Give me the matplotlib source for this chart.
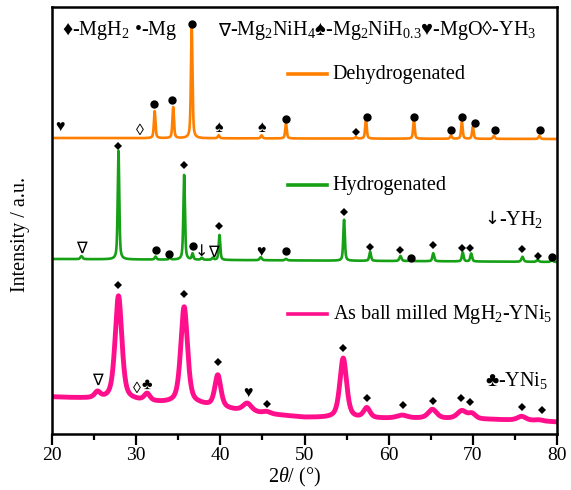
import numpy as np
import matplotlib
matplotlib.use('Agg')
import matplotlib.pyplot as plt
from matplotlib.lines import Line2D
from matplotlib.ticker import MultipleLocator

plt.rcParams['font.family'] = ['Liberation Serif', 'DejaVu Sans']
plt.rcParams['mathtext.fontset'] = 'custom'
plt.rcParams['mathtext.rm'] = 'Liberation Serif'
plt.rcParams['mathtext.it'] = 'Liberation Serif:italic'
plt.rcParams['mathtext.fallback'] = 'stix'

# ---------------- data ----------------
# Dehydrogenated (orange)
dehyd_base = [296, 295]                 # intensity at 20 deg and 80 deg
dehyd_pos = [32.2, 34.4, 36.6, 39.8, 44.9, 47.8, 56.1, 57.3, 63.0, 67.4, 68.7, 70.0, 72.5, 77.9]
dehyd_height = [27, 31, 112, 3, 3, 15, 1.5, 20, 19, 3, 17, 12, 3, 3]
dehyd_fwhm = [0.22, 0.22, 0.22, 0.25, 0.25, 0.22, 0.25, 0.22, 0.22, 0.25, 0.22, 0.22, 0.25, 0.25]

# Hydrogenated (green)
hyd_base = [175, 172]
hyd_pos = [23.5, 27.9, 32.3, 34.0, 35.7, 36.7, 37.8, 39.1, 39.9, 44.8, 47.8,
           54.7, 57.8, 61.4, 62.6, 65.3, 68.8, 69.8, 75.9, 77.7, 79.4]
hyd_height = [3, 109, 3, 2, 85, 6, 2, 2, 25, 3, 1.5, 41, 9, 5, 2, 8, 9, 8, 5, 2, 2]
hyd_fwhm = [0.3, 0.22, 0.25, 0.25, 0.22, 0.22, 0.25, 0.25, 0.22, 0.3, 0.3,
            0.22, 0.25, 0.3, 0.25, 0.25, 0.25, 0.25, 0.3, 0.3, 0.3]

# As ball milled MgH2-YNi5 (pink)
milled_bg_x = [20, 24, 30, 33, 37.5, 41.5, 45.5, 50, 56, 64, 72, 78, 80]
milled_bg_y = [37, 35.5, 33, 31, 29, 24, 20, 16.5, 15.5, 15.5, 14.5, 13, 12]
milled_pos = [25.4, 27.9, 31.3, 35.7, 39.7, 43.2, 45.5, 54.6, 57.4, 61.6, 65.2, 68.7, 69.9, 75.8, 77.8]
milled_height = [6, 104, 7, 97, 32, 8, 2, 60, 10, 3, 9, 8, 5, 4, 1]
milled_fwhm = [0.8, 0.95, 0.8, 0.95, 0.85, 1.2, 1.0, 0.95, 0.9, 1.5, 1.2, 1.3, 1.0, 1.2, 1.0]

# phase marks: (symbol, 2theta, intensity)
dehyd_marks = [('♥', 20.9, 306), ('◊', 30.4, 303), ('●', 32.1, 330), ('●', 34.3, 334),
               ('●', 36.6, 410), ('♠', 39.8, 306), ('♠', 44.9, 306), ('●', 47.8, 315),
               ('♦', 56.1, 302), ('●', 57.4, 317), ('●', 63.0, 317), ('●', 67.4, 304),
               ('●', 68.7, 317), ('●', 70.2, 311), ('●', 72.6, 304), ('●', 78.0, 304)]
hyd_marks = [('∇', 23.5, 186), ('♦', 27.9, 288), ('●', 32.4, 184), ('●', 33.9, 180),
             ('♦', 35.7, 269), ('●', 36.7, 188), ('↓', 37.7, 183), ('∇', 39.2, 182),
             ('♦', 39.9, 208), ('♥', 44.8, 181), ('●', 47.8, 183), ('♦', 54.7, 222),
             ('♦', 57.8, 187), ('♦', 61.4, 184), ('●', 62.6, 176), ('♦', 65.3, 189),
             ('♦', 68.7, 186), ('♦', 69.7, 186), ('♦', 75.9, 185), ('♦', 77.7, 178),
             ('●', 79.4, 177)]
milled_marks = [('∇', 25.4, 54), ('♦', 27.9, 149), ('◊', 30.1, 45), ('♣', 31.3, 49),
                ('♦', 35.7, 140), ('♦', 39.7, 72), ('♥', 43.3, 40), ('♦', 45.5, 30),
                ('♦', 54.6, 86), ('♦', 57.4, 36), ('♦', 61.7, 29), ('♦', 65.3, 33),
                ('♦', 68.6, 36), ('♦', 69.7, 32), ('♦', 75.9, 27), ('♦', 78.2, 24)]

series_labels = ['Dehydrogenated', 'Hydrogenated', 'As ball milled MgH$_2$-YNi$_5$']
colors = ['#FF8000', '#16A016', '#FF0F8C']
xticks = [20, 30, 40, 50, 60, 70, 80]

# ---------------- helpers ----------------
x = np.linspace(20, 80, 4000)


def pvoigt(xx, c, h, w, eta=0.55):
    d = (xx - c) / (w / 2.0)
    L = 1.0 / (1.0 + d ** 2)
    G = np.exp(-np.log(2) * d ** 2)
    return h * (eta * L + (1 - eta) * G)


def pattern(base, pos, hgt, fw):
    y = np.interp(x, [20, 80], base) if len(base) == 2 else base
    y = np.array(y, dtype=float)
    for c, h, w in zip(pos, hgt, fw):
        y = y + pvoigt(x, c, h, w)
    return y


y_dehyd = pattern(dehyd_base, dehyd_pos, dehyd_height, dehyd_fwhm)
y_hyd = pattern(hyd_base, hyd_pos, hyd_height, hyd_fwhm)
y_mill = pattern(np.interp(x, milled_bg_x, milled_bg_y), milled_pos, milled_height, milled_fwhm)

FS = 14.5

# ---------------- figure ----------------
fig = plt.figure(figsize=(5.71, 4.90), dpi=100)
ax = fig.add_axes([52 / 571, 56 / 490, 505 / 571, 427 / 490])

ax.plot(x, y_dehyd, color=colors[0], lw=1.9, solid_joinstyle='round')
ax.plot(x, y_hyd, color=colors[1], lw=1.9, solid_joinstyle='round')
ax.plot(x, y_mill, color=colors[2], lw=3.5, solid_joinstyle='round')

for marks in (dehyd_marks, hyd_marks, milled_marks):
    for sym, mx, my in marks:
        if sym == '●':
            ax.plot([mx], [my], 'o', color='black', ms=5.0, mec='black')
        elif sym == '♦':
            ax.plot([mx], [my], marker='D', color='black', ms=4.4, mew=0)
        else:
            ax.text(mx, my, sym, ha='center', va='center', fontsize=11.5,
                    family=['DejaVu Sans'] if sym in ('∇', '↓') else ['Liberation Serif', 'DejaVu Sans'])

ax.set_xlim(20, 80)
ax.set_ylim(0, 427)

# legends (short line + text next to each curve)
leg_y = [0.843, 0.582, 0.281]
for lab, col, ly in zip(series_labels, colors, leg_y):
    ax.add_line(Line2D([0.467, 0.545], [ly, ly], transform=ax.transAxes, color=col, lw=2.6))
    ax.text(0.556, ly, lab, transform=ax.transAxes, ha='left', va='center', fontsize=FS)

ax.text(0.020, 0.945, '♦-MgH$_2$ •-Mg', transform=ax.transAxes, ha='left', va='center', fontsize=FS)
ax.text(0.329, 0.945, '∇', transform=ax.transAxes, ha='left', va='center', fontsize=13,
        family=['DejaVu Sans'])
ax.text(0.353, 0.945, '-Mg$_2$NiH$_4$♠-Mg$_2$NiH$_{0.3}$♥-MgO◊-YH$_3$', transform=ax.transAxes,
        ha='left', va='center', fontsize=FS)
ax.text(0.857, 0.503, '↓', transform=ax.transAxes, ha='left', va='center', fontsize=13,
        family=['DejaVu Sans'])
ax.text(0.886, 0.503, '-YH$_2$', transform=ax.transAxes, ha='left', va='center', fontsize=FS)
ax.text(0.857, 0.126, '♣-YNi$_5$', transform=ax.transAxes, ha='left', va='center', fontsize=FS)

# axes styling
for s in ax.spines.values():
    s.set_linewidth(1.8)
ax.set_yticks([])
ax.set_xticks(xticks)
ax.xaxis.set_minor_locator(MultipleLocator(5))
ax.tick_params(axis='x', which='major', direction='out', length=8, width=1.6, labelsize=14, pad=1.5)
ax.tick_params(axis='x', which='minor', direction='out', length=4.5, width=1.6)
ax.set_xlabel('2$\\it{\\theta}$/ (°)', fontsize=FS, va='center')
ax.xaxis.set_label_coords(0.481, -0.103)
ax.set_ylabel('Intensity / a.u.', fontsize=FS, va='center')
ax.yaxis.set_label_coords(-0.063, 0.468)

fig.savefig('out.png', dpi=100, facecolor='white')
